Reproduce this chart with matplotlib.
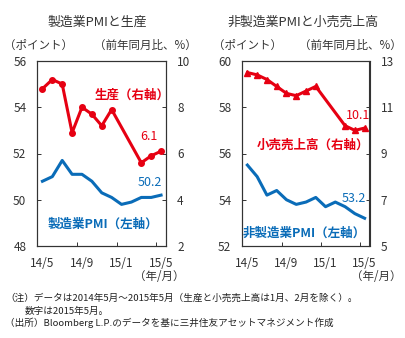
import numpy as np
import matplotlib.pyplot as plt

plt.rcParams['font.family'] = ['Noto Sans CJK JP', 'DejaVu Sans']

months = ['14/5', '14/6', '14/7', '14/8', '14/9', '14/10', '14/11', '14/12',
          '15/1', '15/2', '15/3', '15/4', '15/5']
tick_labels = ['14/5', '14/9', '15/1', '15/5']

# manufacturing PMI and industrial production (no Jan/Feb figures)
mfg_pmi = [50.8, 51.0, 51.7, 51.1, 51.1, 50.8, 50.3, 50.1, 49.8, 49.9, 50.1, 50.1, 50.2]
prod_months = ['14/5', '14/6', '14/7', '14/8', '14/9', '14/10', '14/11', '14/12',
               '15/3', '15/4', '15/5']
production = [8.8, 9.2, 9.0, 6.9, 8.0, 7.7, 7.2, 7.9, 5.6, 5.9, 6.1]

# non-manufacturing PMI and retail sales
nonmfg_pmi = [55.5, 55.0, 54.2, 54.4, 54.0, 53.8, 53.9, 54.1, 53.7, 53.9, 53.7, 53.4, 53.2]
retail_months = prod_months
retail = [12.5, 12.4, 12.2, 11.9, 11.6, 11.5, 11.7, 11.9, 10.2, 10.0, 10.1]

RED = '#e60012'
BLUE = '#0a6cb8'
GRAY = '#333333'

W, H = 406, 338
fig = plt.figure(figsize=(W / 100, H / 100), dpi=100)


def px(x, y):
    return x / W, 1 - y / H


def ftext(x, y, s, **kw):
    fx, fy = px(x, y)
    kw.setdefault('va', 'center')
    kw.setdefault('fontsize', 8)
    kw.setdefault('color', GRAY)
    fig.text(fx, fy, s, **kw)


def make_panel(left_px, right_px, lims_l, lims_r):
    x0, y0 = px(left_px, 246)
    ax = fig.add_axes([x0, y0, (right_px - left_px) / W, (246 - 61) / H])
    ax2 = ax.twinx()
    idx = np.arange(len(months))
    ax.set_xlim(-0.5, len(months) - 0.5)
    ax.set_ylim(*lims_l)
    ax2.set_ylim(*lims_r)
    ax.set_yticks(np.linspace(lims_l[0], lims_l[1], 5))
    ax2.set_yticks(np.linspace(lims_r[0], lims_r[1], 5))
    ax.set_xticks([months.index(m) for m in tick_labels])
    ax.set_xticklabels(tick_labels)
    ax.set_xticks([3.5, 7.5, 11.5], minor=True)
    ax.tick_params(axis='x', which='major', length=0, pad=8, labelsize=8.5, labelcolor=GRAY)
    ax.tick_params(axis='x', which='minor', direction='in', length=3, width=0.7, color=GRAY)
    ax.tick_params(axis='y', direction='in', length=3, width=0.7, pad=8, labelsize=8.5,
                   labelcolor=GRAY, color=GRAY)
    ax2.tick_params(axis='y', direction='in', length=3, width=0.7, pad=8, labelsize=8.5,
                    labelcolor=GRAY, color=GRAY)
    for a in (ax, ax2):
        for s in a.spines.values():
            s.set_color(GRAY)
            s.set_linewidth(0.8)
    return ax, ax2, idx


# left panel
ax, ax2, idx = make_panel(37.5, 166, (48, 56), (2, 10))
ax.plot(idx, mfg_pmi, color=BLUE, lw=2.2, solid_joinstyle='round')
ax2.plot([months.index(m) for m in prod_months], production, color=RED, lw=2.2,
         marker='o', ms=4, solid_joinstyle='round')

# right panel
bx, bx2, idx = make_panel(242.5, 369.5, (52, 60), (5, 13))
bx.plot(idx, nonmfg_pmi, color=BLUE, lw=2.2, solid_joinstyle='round')
bx2.plot([months.index(m) for m in retail_months], retail, color=RED, lw=2.2,
         marker='^', ms=5, solid_joinstyle='round')

# titles and unit labels
ftext(97, 22, '製造業PMIと生産', ha='center', fontsize=9.3)
ftext(303, 22, '非製造業PMIと小売売上高', ha='center', fontsize=9.3)
ftext(4, 45, '（ポイント）', ha='left', fontsize=8.3)
ftext(197, 45, '（前年同月比、%）', ha='right', fontsize=8.3)
ftext(213, 45, '（ポイント）', ha='left', fontsize=8.3)
ftext(402, 45, '（前年同月比、%）', ha='right', fontsize=8.3)
ftext(185, 277, '（年/月）', ha='right', fontsize=8.3)
ftext(402, 277, '（年/月）', ha='right', fontsize=8.3)

# series labels
ftext(132, 95, '生産（右軸）', ha='center', color=RED, fontsize=9, weight='bold')
ftext(149, 136, '6.1', ha='center', color=RED, fontsize=9)
ftext(150, 182, '50.2', ha='center', color=BLUE, fontsize=9)
ftext(103, 224, '製造業PMI（左軸）', ha='center', color=BLUE, fontsize=9, weight='bold')
ftext(358, 115, '10.1', ha='center', color=RED, fontsize=9)
ftext(313, 145, '小売売上高（右軸）', ha='center', color=RED, fontsize=9, weight='bold')
ftext(354, 199, '53.2', ha='center', color=BLUE, fontsize=9)
ftext(304, 233, '非製造業PMI（左軸）', ha='center', color=BLUE, fontsize=9, weight='bold')

# notes
ftext(5, 298, '（注）データは2014年5月～2015年5月（生産と小売売上高は1月、2月を除く）。',
      ha='left', fontsize=6.9, color='#222222')
ftext(25, 311, '数字は2015年5月。', ha='left', fontsize=6.9, color='#222222')
ftext(5, 323, '（出所）Bloomberg L.P.のデータを基に三井住友アセットマネジメント作成',
      ha='left', fontsize=6.9, color='#222222')

fig.savefig('out.png', dpi=100)
